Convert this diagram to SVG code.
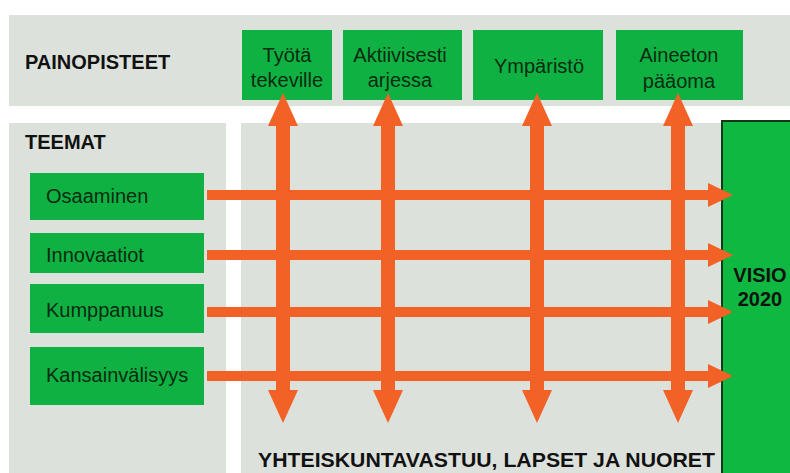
<svg xmlns="http://www.w3.org/2000/svg" width="790" height="473" viewBox="0 0 790 473">
<style>
.panel{fill:#dde1dc}
.box{fill:#0fb242}
.bt{font-family:"Liberation Sans",Arial,sans-serif;font-size:20px;fill:#0b2a12;text-anchor:middle}
.lt{font-family:"Liberation Sans",Arial,sans-serif;font-size:20px;fill:#0b2a12}
.hd{font-family:"Liberation Sans",Arial,sans-serif;font-size:20px;font-weight:bold;fill:#111}
.arr{fill:#f26125}
</style>
<rect width="790" height="473" fill="#ffffff"/>
<rect class="panel" x="9" y="15" width="781" height="91"/>
<rect class="panel" x="9" y="123" width="217" height="350"/>
<rect class="panel" x="241" y="123" width="549" height="350"/>
<text class="hd" x="25" y="69">PAINOPISTEET</text>
<text class="hd" x="25" y="149">TEEMAT</text>
<text class="hd" x="258" y="467" font-size="21" textLength="457" lengthAdjust="spacingAndGlyphs">YHTEISKUNTAVASTUU,  LAPSET JA NUORET</text>

<g id="visio">
<rect x="722" y="121" width="70" height="354" fill="#0fb840" stroke="#0d3a18" stroke-width="2"/>
<text class="hd" x="760" y="282" text-anchor="middle" fill="#0b2a12">VISIO</text>
<text class="hd" x="760" y="306" text-anchor="middle" fill="#0b2a12">2020</text>
</g>

<g id="p1"><rect class="box" x="242" y="30" width="90" height="70"/><text class="bt" x="287" y="62">Työtä</text><text class="bt" x="287" y="87">tekeville</text></g>
<g id="p2"><rect class="box" x="343" y="30" width="119" height="70"/><text class="bt" x="400" y="62">Aktiivisesti</text><text class="bt" x="400" y="87">arjessa</text></g>
<g id="p3"><rect class="box" x="473" y="30" width="130" height="70"/><text class="bt" x="539" y="73">Ympäristö</text></g>
<g id="p4"><rect class="box" x="616" y="30" width="127" height="70"/><text class="bt" x="679" y="62">Aineeton</text><text class="bt" x="679" y="88">pääoma</text></g>

<g id="t1"><rect class="box" x="30" y="173" width="174" height="47"/><text class="lt" x="46" y="203">Osaaminen</text></g>
<g id="t2"><rect class="box" x="30" y="233" width="174" height="40"/><text class="lt" x="46" y="262">Innovaatiot</text></g>
<g id="t3"><rect class="box" x="30" y="284" width="174" height="49"/><text class="lt" x="46" y="317">Kumppanuus</text></g>
<g id="t4"><rect class="box" x="30" y="347" width="174" height="58"/><text class="lt" x="46" y="382">Kansainvälisyys</text></g>

<g id="connectors">
<g class="arr">
<polygon points="207,190 708,190 708,183 733,195 708,207 708,200 207,200"/>
<polygon points="207,250 708,250 708,243 733,255 708,267 708,260 207,260"/>
<polygon points="207,307 708,307 708,300 733,312 708,324 708,317 207,317"/>
<polygon points="207,371 708,371 708,364 733,376 708,388 708,381 207,381"/>
</g>
<g class="arr">
<polygon points="283,93 298,126 290,126 290,390 298,390 283,423 268,390 276,390 276,126 268,126"/>
<polygon points="388,93 403,126 395,126 395,390 403,390 388,423 373,390 381,390 381,126 373,126"/>
<polygon points="537,93 552,126 544,126 544,390 552,390 537,423 522,390 530,390 530,126 522,126"/>
<polygon points="678,93 693,126 685,126 685,390 693,390 678,423 663,390 671,390 671,126 663,126"/>
</g>
</g>
</svg>
